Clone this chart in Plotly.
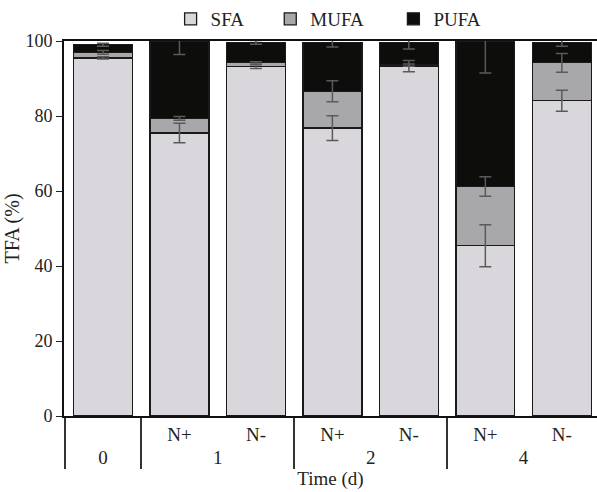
import numpy as np
import plotly.graph_objects as go

# categories
time_labels = ["0", "1", "1", "2", "2", "4", "4"]
n_labels = [" ", "N+", "N-", "N+", "N-", "N+", "N-"]

# series values (%), segment heights
sfa = [95.5, 75.5, 93.2, 76.8, 93.3, 45.4, 84.1]
mufa = [1.5, 3.9, 1.0, 9.8, 0.3, 15.8, 10.1]
pufa = [2.0, 20.6, 5.4, 13.0, 6.0, 38.8, 5.4]

# errors (%)
sfa_err = [0.3, 2.6, 0.5, 3.3, 1.5, 5.6, 2.8]
mufa_err = [0.5, 0.5, 0.3, 2.8, 0.3, 2.6, 2.5]
pufa_err = [0.4, 3.6, 0.5, 1.2, 1.7, 8.5, 1.0]

tick_vals = [0, 20, 40, 60, 80, 100]

FONT = "Liberation Serif"
colors = {"SFA": "#d9d7dc", "MUFA": "#a8a7a9", "PUFA": "#0d0e0b"}

series = [("SFA", sfa, sfa_err, "legend"),
          ("MUFA", mufa, mufa_err, "legend2"),
          ("PUFA", pufa, pufa_err, "legend3")]

fig = go.Figure()
for name, vals, errs, leg in series:
    fig.add_trace(go.Bar(
        name=name,
        x=[time_labels, n_labels],
        y=vals,
        legend=leg,
        marker=dict(color=colors[name], line=dict(color="#1a1a1a", width=1.3)),
    ))

# error bars drawn on top of all bars, at the top of each stacked segment
cum = np.zeros(len(sfa))
for name, vals, errs, leg in series:
    cum = cum + np.array(vals)
    fig.add_trace(go.Scatter(
        x=[time_labels, n_labels],
        y=cum.tolist(),
        mode="markers",
        marker=dict(size=1, color="rgba(0,0,0,0)"),
        error_y=dict(type="data", array=errs, visible=True, color="#5a5a5a",
                     thickness=1.5, width=6),
        showlegend=False,
        hoverinfo="skip",
    ))

leg_common = dict(orientation="h", xanchor="left", yref="container", y=1.0,
                  yanchor="top", font=dict(size=19), itemwidth=30,
                  bgcolor="rgba(0,0,0,0)")

fig.update_layout(
    width=597, height=492,
    barmode="stack",
    bargap=0.23,
    plot_bgcolor="white", paper_bgcolor="white",
    margin=dict(l=64, r=0, t=41, b=76, autoexpand=False),
    font=dict(family=FONT, size=19, color="#222"),
    showlegend=True,
    legend=dict(x=0.2, **leg_common),
    legend2=dict(x=0.387, **leg_common),
    legend3=dict(x=0.618, **leg_common),
)
fig.update_yaxes(
    range=[0, 100], tickvals=tick_vals, ticks="outside", ticklen=6,
    tickcolor="#222", showline=True, linecolor="#111", linewidth=2,
    showgrid=False, zeroline=False,
    title=dict(text="TFA (%)", font=dict(size=20), standoff=0),
    tickfont=dict(size=18),
)
fig.update_xaxes(
    type="multicategory",
    range=[-0.51, 6.46],
    showline=True, linecolor="#111", linewidth=2, mirror=True,
    showgrid=False, ticks="",
    showdividers=True, dividercolor="#333", dividerwidth=1.5,
    tickfont=dict(size=19),
    title=dict(text="Time (d)", font=dict(size=19), standoff=5),
)

fig.write_html("out.html")
